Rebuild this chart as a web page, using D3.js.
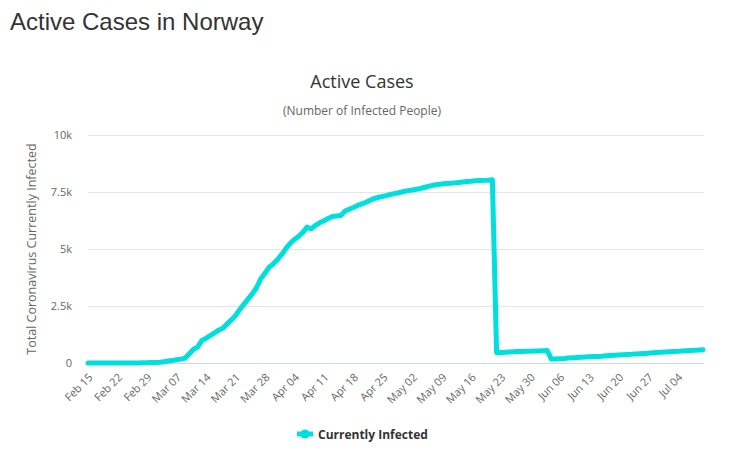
<!DOCTYPE html>
<html>
<head>
<meta charset="utf-8">
<script src="https://cdn.jsdelivr.net/npm/d3@7"></script>
<style>
  html, body { margin: 0; padding: 0; background: #fff; }
  svg { display: block; }
</style>
</head>
<body>
<svg id="chart" width="732" height="450"></svg>
<script>
// ---- data ----
const startDate = "2020-02-15";
const endDate = "2020-07-10";
const seriesName = "Currently Infected";
const activeCases = [
  0, 0, 0, 0, 0, 0, 0, 0, 0, 0,
  0, 1, 1, 6, 15, 19, 25, 32, 55, 85,
  105, 140, 170, 205, 395, 590, 695, 985, 1080, 1205,
  1315, 1440, 1525, 1715, 1880, 2080, 2340, 2570, 2810, 3030,
  3300, 3690, 3940, 4200, 4350, 4540, 4760, 5030, 5250, 5420,
  5560, 5730, 5960, 5880, 6040, 6150, 6240, 6340, 6430, 6450,
  6470, 6660, 6740, 6820, 6910, 6980, 7050, 7140, 7220, 7270,
  7310, 7350, 7400, 7440, 7480, 7520, 7560, 7590, 7620, 7660,
  7710, 7760, 7800, 7830, 7850, 7870, 7880, 7900, 7920, 7940,
  7960, 7970, 7990, 8000, 8010, 8020, 8040, 450, 460, 470,
  480, 490, 500, 505, 510, 520, 525, 530, 540, 550,
  170, 180, 190, 200, 215, 225, 240, 250, 260, 270,
  280, 290, 300, 315, 330, 345, 355, 365, 375, 385,
  400, 410, 420, 430, 445, 460, 470, 480, 490, 500,
  510, 525, 540, 550, 560, 570, 585
];
const xTickLabels = ["Feb 15","Feb 22","Feb 29","Mar 07","Mar 14","Mar 21","Mar 28",
  "Apr 04","Apr 11","Apr 18","Apr 25","May 02","May 09","May 16","May 23","May 30",
  "Jun 06","Jun 13","Jun 20","Jun 27","Jul 04"];
const yTickValues = [0, 2500, 5000, 7500, 10000];
const yTickLabels = ["0", "2.5k", "5k", "7.5k", "10k"];

(function () {
const parse = d3.timeParse("%Y-%m-%d");
const fmt = d3.timeFormat("%b %d");
const dates = d3.timeDay.range(parse(startDate), d3.timeDay.offset(parse(endDate), 1));
const data = dates.map((d, i) => ({ date: d, label: fmt(d), value: activeCases[i] }));

const svg = d3.select("#chart");
const pL = 88, pR = 703, pT = 135, pB = 363;
const FONT = "'Open Sans', 'DejaVu Sans', sans-serif";
const lineColor = "#00dfdd";

const x = d3.scalePoint().domain(data.map(d => d.label)).range([pL, pR]);
const y = d3.scaleLinear().domain([0, 10000]).range([pB, pT]);

// page title
svg.append("text").attr("x", 10).attr("y", 30)
  .attr("font-family", "'Liberation Sans', Arial, sans-serif")
  .attr("font-size", 24).attr("fill", "#333").text("Active Cases in Norway");

// chart title & subtitle
svg.append("text").attr("x", 362).attr("y", 88).attr("text-anchor", "middle")
  .attr("font-family", FONT).attr("font-size", 18).attr("fill", "#333333").text("Active Cases");
svg.append("text").attr("x", 362).attr("y", 115).attr("text-anchor", "middle")
  .attr("font-family", FONT).attr("font-size", 12).attr("fill", "#666666").text("(Number of Infected People)");

// y axis labels
const yAxis = d3.axisLeft(y).tickValues(yTickValues)
  .tickFormat((d, i) => yTickLabels[i]).tickSize(0).tickPadding(0);
const gy = svg.append("g").attr("transform", `translate(${pL - 16},0)`).call(yAxis);
gy.select(".domain").remove();
gy.selectAll("text").attr("font-family", FONT).attr("font-size", 11).attr("fill", "#666666");

// grid
svg.append("g").selectAll("line").data(yTickValues.filter(v => v > 0)).join("line")
  .attr("x1", pL).attr("x2", pR + 1)
  .attr("y1", d => Math.round(y(d)) + 0.5).attr("y2", d => Math.round(y(d)) + 0.5)
  .attr("stroke", "#e6e6e6").attr("stroke-width", 1);

// x axis
const xAxis = d3.axisBottom(x).tickValues(xTickLabels).tickSize(0).tickPadding(0);
const gx = svg.append("g").attr("transform", `translate(0,${pB})`).call(xAxis);
gx.select(".domain").remove();
gx.selectAll("text")
  .attr("font-family", FONT).attr("font-size", 11).attr("fill", "#666666")
  .attr("text-anchor", "end").attr("dy", null).attr("y", null)
  .attr("transform", "translate(5,15) rotate(-45)");
svg.append("line").attr("x1", pL).attr("x2", pR + 1)
  .attr("y1", pB + 0.5).attr("y2", pB + 0.5)
  .attr("stroke", "#ccd6eb").attr("stroke-width", 1);

// y axis title
svg.append("text").attr("transform", `translate(36,249) rotate(-90)`).attr("text-anchor", "middle")
  .attr("font-family", FONT).attr("font-size", 12.5).attr("fill", "#666666")
  .text("Total Coronavirus Currently Infected");

// line
const line = d3.line().x(d => x(d.label)).y(d => y(d.value));
svg.append("path").datum(data).attr("d", line)
  .attr("fill", "none").attr("stroke", lineColor).attr("stroke-width", 5)
  .attr("stroke-linejoin", "round").attr("stroke-linecap", "round");

// legend
const lg = svg.append("g").attr("transform", "translate(297,434)");
lg.append("line").attr("x1", 0).attr("x2", 16).attr("y1", 0).attr("y2", 0)
  .attr("stroke", lineColor).attr("stroke-width", 5);
lg.append("circle").attr("cx", 8).attr("cy", 0).attr("r", 4.5).attr("fill", lineColor);
lg.append("text").attr("x", 21).attr("y", 4.5)
  .attr("font-family", FONT).attr("font-size", 12).attr("font-weight", "bold")
  .attr("fill", "#333333").text(seriesName);
})();
</script>
</body>
</html>
